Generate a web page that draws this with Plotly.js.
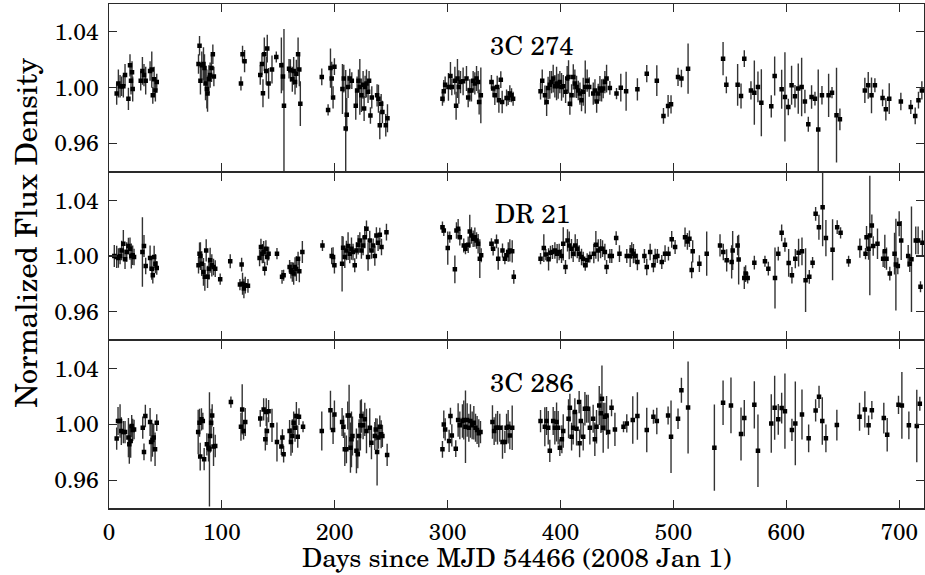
<!DOCTYPE html>
<html>
<head>
<meta charset="utf-8">
<script src="https://cdn.plot.ly/plotly-3.0.1.min.js"></script>
<style>
html,body{margin:0;padding:0;background:#fff;}
#chart{width:925px;height:575px;}
</style>
</head>
<body>
<div id="chart"></div>
<script>
// ---------- 3C 274 (top panel) ----------
var days274 = [6.8,8.3,9.8,11.2,12.7,14.2,17.2,18.6,19.5,20.4,21.0,28.1,29.6,31.0,32.5,36.4,37.9,38.8,40.0,41.1,42.3,
79.3,80.2,81.0,82.2,83.7,84.6,85.5,86.7,87.3,88.5,89.6,90.8,92.0,92.9,
116.9,118.3,120.1,
134.0,135.5,136.4,137.6,139.3,140.2,141.4,144.4,148.2,152.7,154.1,155.0,159.5,160.7,162.4,163.6,164.8,166.0,167.5,168.6,169.5,
188.5,194.1,196.2,197.3,198.5,199.7,206.8,208.0,209.7,210.6,211.8,213.3,215.1,218.6,219.8,221.0,222.2,223.6,225.1,226.0,226.9,228.1,229.5,230.4,231.6,232.8,237.5,238.7,239.9,241.1,242.2,245.2,246.7,
295.4,296.6,297.8,300.7,302.5,303.7,306.4,307.5,308.7,309.9,311.4,313.7,316.7,318.2,319.6,321.1,322.6,324.1,325.6,327.0,327.9,329.4,
338.8,340.3,341.8,343.9,345.4,347.1,348.3,352.2,353.6,355.1,356.6,358.0,
382.3,383.8,386.2,387.7,389.0,390.5,392.0,393.5,395.0,396.5,397.9,399.4,400.9,402.4,404.5,405.9,407.1,408.3,409.8,411.3,412.7,414.2,415.7,417.2,418.6,420.1,421.9,423.6,425.4,429.0,430.5,432.0,433.4,434.9,436.4,437.8,439.3,440.8,443.7,449.6,
453.4,458.1,468.1,476.4,485.3,491.2,495.3,497.9,504.1,507.1,513.0,
544.0,546.9,556.9,559.9,562.8,568.7,571.7,574.9,577.9,586.7,589.7,595.9,598.8,601.8,604.7,607.7,610.6,613.6,616.5,619.5,622.4,625.4,628.3,631.6,637.5,640.5,644.5,647.5,
669.6,672.6,675.5,678.5,685.3,688.2,691.2,701.5,710.3,714.2,717.1,720.1];
var flux274 = [0.9957,1.003,1.001,1.001,1.001,1.009,0.992,1.016,1.005,1.011,0.999,1.005,1.012,1.009,1.005,1.012,1.013,0.9945,1.006,0.998,1.004,
1.017,1.030,1.005,1.016,1.017,1.014,1.003,0.999,0.9957,1.006,1.009,1.014,1.024,1.008,
1.003,1.024,1.019,
1.009,1.017,0.996,1.024,1.012,1.028,1.003,1.013,1.022,1.016,1.008,0.987,1.0136,1.0124,1.006,1.012,1.004,1.010,1.024,1.013,0.9885,
1.0077,0.984,1.014,1.0065,0.993,1.015,0.999,1.0065,0.9706,0.9806,1.0005,1.0065,1.005,0.987,0.998,1.005,1.0005,0.9945,1.002,0.985,1.0005,1.003,0.997,1.005,0.980,0.993,0.9945,0.992,0.973,0.9885,0.9825,0.973,0.978,
0.992,0.9974,1.002,1.0005,1.0084,1.0005,1.005,0.987,1.0065,1.0005,1.004,1.0045,1.0065,0.993,0.998,0.998,1.005,1.003,1.0065,1.004,0.9897,0.9945,
1.004,0.9993,0.9945,1.0005,0.991,1.0057,0.9897,0.9926,0.9926,0.9957,0.9945,0.992,
0.9974,1.005,0.9945,0.9897,0.9998,1.002,1.004,1.0065,1.001,1.003,1.001,1.004,1.0005,1.001,0.997,1.0065,1.0077,0.9885,0.9945,1.0077,1.003,1.0005,0.998,0.9957,0.991,0.997,1.0005,1.005,1.0005,0.9957,0.998,0.990,0.9957,0.9993,0.998,0.9993,1.004,1.0065,0.9998,0.9957,
1.000,0.9974,0.9988,1.010,1.005,0.9797,0.9869,0.988,1.0077,1.0065,1.0136,
1.0208,1.002,1.002,0.994,1.0208,0.998,0.9964,1.0005,0.9892,0.9866,1.0084,0.9988,0.9933,0.9861,1.0017,0.9938,0.9993,1.0005,0.990,0.9737,0.9933,0.9921,0.970,0.9945,0.9945,0.9964,0.9802,0.9773,
0.998,1.0017,0.9945,1.0017,0.9926,0.9845,0.9921,0.990,0.9861,0.9797,0.991,0.998];
var err274 = [0.008,0.010,0.008,0.007,0.008,0.008,0.008,0.008,0.010,0.008,0.009,0.007,0.010,0.008,0.010,0.007,0.013,0.006,0.009,0.008,0.006,
0.007,0.007,0.010,0.010,0.012,0.010,0.012,0.014,0.013,0.010,0.009,0.010,0.007,0.007,
0.005,0.006,0.008,
0.007,0.008,0.010,0.012,0.010,0.010,0.011,0.010,0.004,0.020,0.010,0.055,0.007,0.008,0.009,0.010,0.009,0.010,0.012,0.012,0.016,
0.006,0.004,0.014,0.012,0.008,0.006,0.018,0.010,0.042,0.012,0.008,0.007,0.006,0.010,0.010,0.008,0.020,0.012,0.010,0.009,0.008,0.010,0.008,0.007,0.006,0.008,0.008,0.010,0.010,0.007,0.008,0.008,0.010,
0.005,0.008,0.006,0.010,0.010,0.006,0.010,0.010,0.014,0.012,0.008,0.010,0.009,0.007,0.008,0.008,0.007,0.008,0.009,0.008,0.009,0.020,
0.005,0.006,0.007,0.008,0.009,0.006,0.008,0.006,0.005,0.006,0.005,0.005,
0.006,0.008,0.007,0.010,0.008,0.010,0.008,0.010,0.008,0.012,0.009,0.008,0.010,0.008,0.008,0.009,0.012,0.008,0.008,0.009,0.010,0.008,0.007,0.008,0.008,0.010,0.019,0.008,0.007,0.008,0.008,0.008,0.007,0.009,0.008,0.007,0.008,0.010,0.005,0.004,
0.010,0.014,0.008,0.0062,0.011,0.0057,0.0078,0.0066,0.0065,0.0063,0.018,
0.012,0.006,0.015,0.009,0.006,0.0066,0.023,0.011,0.024,0.008,0.014,0.014,0.032,0.006,0.014,0.008,0.018,0.021,0.0084,0.0054,0.0084,0.005,0.043,0.0066,0.0155,0.004,0.034,0.0078,
0.009,0.0096,0.0128,0.005,0.006,0.008,0.011,0.0063,0.005,0.006,0.006,0.0066];

// ---------- DR 21 (middle panel) ----------
var daysDR21 = [4.7,6.8,8.3,9.8,11.2,12.7,14.2,15.7,17.2,18.6,19.8,21.0,22.2,29.6,31.0,32.5,36.4,37.9,38.8,40.0,41.1,42.3,
79.3,80.2,81.0,82.2,83.7,84.9,86.1,87.3,88.5,89.6,91.1,92.6,94.1,98.5,107.4,116.0,117.5,118.3,119.5,120.7,123.1,
133.4,134.6,135.8,137.0,137.9,139.0,140.2,141.4,148.8,153.3,154.7,160.0,161.2,162.4,163.6,164.8,166.0,167.5,168.6,171.3,
189.1,197.3,198.5,199.7,206.5,207.4,208.9,210.3,211.8,213.3,214.8,216.2,217.7,219.2,220.7,222.2,223.6,225.1,226.6,228.1,229.5,231.0,232.5,234.0,235.5,236.9,238.4,239.9,241.4,245.8,
295.4,296.6,300.1,301.9,306.4,307.8,309.3,310.8,314.3,315.8,318.2,319.6,321.1,322.6,324.1,325.6,327.0,328.5,329.7,
338.8,340.3,343.3,344.8,348.6,350.7,352.2,353.7,355.1,357.2,358.6,
382.3,385.2,387.0,389.4,391.1,392.9,395.0,397.0,398.8,400.9,402.4,404.4,406.2,407.7,409.7,411.2,413.0,414.8,416.5,418.6,420.1,421.9,423.6,426.0,429.5,431.3,433.4,435.5,437.2,439.3,440.8,443.7,445.4,449.3,452.2,
458.7,461.7,463.1,464.6,466.1,468.1,474.3,476.4,479.4,482.3,483.8,485.8,489.7,492.6,495.6,498.5,501.5,
510.3,512.4,514.2,516.2,517.1,523.0,529.5,541.3,544.2,547.2,551.6,552.5,556.9,557.8,562.8,564.0,565.8,571.7,581.1,584.1,590.0,592.9,595.9,598.8,602.1,605.0,608.0,610.9,613.9,617.1,620.4,623.3,626.0,628.9,632.2,635.1,641.0,645.1,648.1,655.2,
665.2,670.2,671.1,672.9,674.0,675.8,677.0,680.8,685.8,687.3,688.8,691.7,695.9,697.1,698.8,700.0,701.8,708.0,709.4,710.9,714.7,716.8,718.9,720.6];
var fluxDR21 = [1.000,0.9993,0.9986,1.000,1.004,1.0088,0.9976,1.0029,1.0072,1.0053,1.000,1.0005,0.9993,1.0029,1.0072,0.9928,0.9986,0.9909,0.9861,0.9993,0.9945,0.9914,
0.9933,1.0017,1.000,0.9945,0.9885,0.985,1.004,0.985,0.9909,0.9969,0.9933,0.9921,0.9909,0.9833,0.9962,0.9794,0.9938,0.980,0.9766,0.979,0.9785,
0.9986,1.0065,1.0017,1.0029,0.9909,1.0053,0.9993,1.0017,1.0017,0.985,0.9861,0.9921,0.9897,0.9885,0.9873,0.9921,0.9909,0.9981,0.989,1.0029,
1.0076,1.000,0.9993,0.9933,0.9945,1.006,0.9993,1.004,1.0072,1.0017,1.0053,1.0029,0.9933,1.004,1.0081,1.0112,1.004,1.0076,1.0136,1.0196,0.9993,1.0112,1.004,1.0076,1.000,1.0148,1.0096,1.0153,1.0065,1.0172,
1.0208,1.0184,1.0057,1.0136,0.9904,1.0184,1.0196,1.0136,1.0076,1.0053,1.0081,1.0177,1.0148,1.0124,1.0136,1.0112,1.0088,0.9981,1.0005,
1.0088,1.0053,1.0105,0.9981,1.004,0.9981,1.0005,1.0029,1.004,1.0034,0.985,
0.9981,1.0057,1.001,0.9976,1.0024,1.0029,1.004,1.0017,1.0029,1.000,1.0088,0.9921,1.0112,1.0076,1.0053,1.0017,1.0076,1.0053,1.0017,0.9993,0.9981,0.9933,0.9969,0.9993,1.0017,1.0081,1.004,1.0053,1.0053,1.0029,0.9921,1.000,1.000,1.0129,1.0017,
1.000,1.000,1.004,1.0017,1.000,0.9957,1.000,0.9921,1.0029,0.9933,0.9993,1.000,0.9957,1.0017,1.0017,1.012,1.0065,
1.0136,1.0105,1.0124,0.990,1.0034,0.9945,1.0017,1.0076,1.0029,0.9969,0.9957,1.004,1.0076,0.9974,0.9842,0.9873,0.9842,0.9952,0.9962,0.9909,0.9842,1.0017,1.0167,1.0081,0.995,0.9861,0.9981,1.0024,1.0034,0.9826,0.985,0.9952,1.0304,1.0208,1.0351,1.0129,1.0045,1.0208,1.0167,0.9962,
1.0057,1.0017,1.0136,1.0053,1.0148,1.022,1.0072,1.0088,0.9981,1.0034,0.9981,0.9873,1.0017,0.9938,0.9928,1.0232,1.0112,1.000,0.9945,0.9976,1.0112,1.0112,0.9778,1.0096];
var errDR21 = [0.008,0.008,0.007,0.006,0.007,0.010,0.007,0.007,0.006,0.008,0.009,0.007,0.006,0.025,0.008,0.006,0.009,0.008,0.006,0.008,0.007,0.005,
0.006,0.008,0.010,0.009,0.010,0.010,0.008,0.008,0.008,0.009,0.008,0.006,0.006,0.004,0.005,0.004,0.005,0.008,0.007,0.006,0.005,
0.006,0.006,0.007,0.008,0.005,0.006,0.006,0.005,0.004,0.005,0.004,0.005,0.006,0.007,0.008,0.007,0.009,0.005,0.008,0.008,
0.004,0.006,0.007,0.006,0.020,0.008,0.008,0.007,0.010,0.007,0.008,0.006,0.005,0.006,0.007,0.006,0.006,0.007,0.008,0.006,0.010,0.007,0.006,0.005,0.007,0.006,0.006,0.005,0.006,0.006,
0.004,0.004,0.012,0.004,0.010,0.006,0.007,0.006,0.005,0.004,0.006,0.012,0.006,0.006,0.007,0.006,0.007,0.014,0.005,
0.004,0.005,0.005,0.008,0.005,0.004,0.004,0.007,0.008,0.008,0.005,
0.004,0.010,0.004,0.008,0.005,0.005,0.006,0.007,0.006,0.005,0.012,0.005,0.008,0.010,0.007,0.006,0.008,0.007,0.006,0.006,0.005,0.004,0.005,0.004,0.007,0.010,0.008,0.007,0.006,0.006,0.005,0.005,0.005,0.005,0.006,
0.005,0.008,0.006,0.007,0.005,0.006,0.005,0.006,0.006,0.005,0.006,0.005,0.005,0.006,0.005,0.006,0.005,
0.007,0.006,0.006,0.006,0.008,0.006,0.016,0.008,0.006,0.008,0.012,0.014,0.007,0.018,0.008,0.006,0.004,0.005,0.004,0.005,0.022,0.005,0.006,0.005,0.010,0.006,0.007,0.010,0.010,0.023,0.005,0.004,0.005,0.009,0.028,0.013,0.022,0.005,0.004,0.004,
0.007,0.004,0.008,0.008,0.043,0.008,0.007,0.011,0.006,0.012,0.008,0.005,0.015,0.033,0.006,0.009,0.014,0.008,0.006,0.038,0.010,0.010,0.004,0.009];

// ---------- 3C 286 (bottom panel) ----------
var days286 = [6.8,8.0,9.8,10.9,12.7,14.2,17.2,18.0,19.2,20.1,21.0,22.2,29.9,31.0,32.2,36.4,37.3,38.5,39.6,40.8,42.3,
79.0,80.2,80.8,81.9,83.1,84.3,86.7,88.2,89.0,89.6,90.5,91.4,92.6,94.1,108.0,116.9,118.0,119.2,120.7,
134.0,137.0,138.5,139.3,139.9,141.4,144.4,148.8,152.7,153.6,154.7,160.0,161.2,162.4,163.6,164.8,166.0,167.2,168.3,171.9,
188.5,196.2,198.5,199.7,206.5,207.7,208.9,210.3,211.5,212.7,213.9,214.8,215.7,219.2,220.4,221.6,222.7,223.6,225.1,226.6,228.1,231.0,232.5,235.5,236.3,237.5,238.7,239.9,241.1,242.2,246.4,
295.4,296.6,297.8,301.3,302.5,303.7,307.2,309.3,310.8,313.1,314.3,315.8,317.3,318.8,320.2,321.7,323.2,324.7,326.1,327.6,329.1,
339.7,341.2,342.7,344.2,346.2,348.6,350.7,352.2,353.6,355.1,357.2,
382.3,386.1,387.6,389.1,390.5,393.5,395.0,396.5,397.9,399.4,401.2,402.4,407.1,408.3,409.8,411.2,412.7,414.2,416.5,416.9,418.0,420.1,421.6,423.0,424.5,426.0,428.9,430.4,431.9,434.3,435.8,436.7,437.8,439.3,440.8,442.2,445.2,448.2,
455.8,458.7,464.0,468.1,476.4,482.3,485.3,495.3,497.9,504.1,507.1,513.0,
536.3,544.0,551.0,559.9,562.8,571.7,574.9,586.7,589.7,592.9,595.9,598.8,605.0,608.0,613.9,619.8,626.0,629.0,631.9,635.1,644.8,
664.9,669.6,672.9,675.8,686.4,689.4,699.4,702.4,708.6,715.6,718.3];
var flux286 = [0.9898,1.0024,1.0024,0.9952,0.9945,0.9945,0.9905,0.9857,0.9881,0.9988,0.996,0.9964,0.9976,0.9802,1.006,1.0017,0.9874,0.9888,0.9905,0.9821,1.0012,
0.9945,1.0012,0.9769,1.0036,1.0024,0.975,0.9857,0.9833,0.9821,0.9917,1.0012,1.0064,0.9841,0.9845,1.016,0.9983,1.0107,0.9952,1.0017,
1.0043,1.0107,0.9893,1.0088,0.9952,1.0095,0.9993,0.9874,0.9841,0.9905,0.9786,0.9952,0.9874,0.9917,1.0012,0.9976,1.006,0.9912,1.0055,0.9983,
0.9952,1.0102,0.996,1.0071,1.0017,0.9983,0.9821,0.9821,1.0064,1.0064,0.9833,0.9893,0.9917,0.981,0.9786,0.9917,0.9993,1.006,0.9993,1.0036,0.9952,0.9976,0.9869,0.9917,0.9964,0.9802,0.9905,0.9983,0.9929,0.9917,0.9781,
0.9821,1.000,0.9964,0.9881,1.006,0.9921,0.9826,1.0031,0.9993,1.0024,1.0031,0.9983,1.0031,0.9976,1.0024,0.9993,1.0012,0.9976,0.996,0.9936,0.9945,
1.0017,0.9952,0.9976,0.9976,0.9976,0.9874,0.9874,0.9976,0.9983,0.9921,0.9976,
1.0024,0.9983,1.0024,0.9976,0.981,1.0024,0.9976,1.0017,0.9976,0.9833,0.9893,0.9952,1.004,1.0119,0.9912,0.9976,1.0088,0.9969,1.016,0.9864,1.0024,0.9912,1.0112,1.0112,1.0112,0.9976,1.004,0.9893,0.9983,1.0136,1.0079,1.0183,0.9976,1.0055,1.0064,0.9945,1.0119,0.9964,
0.9983,1.0007,1.0031,1.006,0.996,1.0055,1.0024,1.0064,0.9912,1.004,1.0245,1.0121,
0.9833,1.0155,1.0136,0.9931,1.0045,1.014,0.981,1.0007,1.0119,1.0036,1.0117,1.0095,0.996,1.0007,1.0071,0.990,1.010,1.0198,1.0024,0.990,0.9995,
1.0055,1.0107,0.9993,1.0102,1.0045,0.9926,1.014,1.0136,0.9993,0.9988,1.0148];
var err286 = [0.008,0.010,0.012,0.010,0.008,0.008,0.014,0.014,0.012,0.008,0.008,0.007,0.008,0.006,0.008,0.010,0.014,0.012,0.010,0.012,0.006,
0.016,0.010,0.010,0.008,0.006,0.008,0.008,0.010,0.041,0.012,0.010,0.008,0.014,0.008,0.004,0.010,0.018,0.006,0.010,
0.006,0.008,0.008,0.010,0.010,0.008,0.012,0.014,0.006,0.006,0.006,0.008,0.010,0.012,0.008,0.010,0.010,0.008,0.006,0.004,
0.014,0.014,0.010,0.010,0.010,0.008,0.012,0.010,0.010,0.022,0.018,0.020,0.014,0.016,0.010,0.012,0.018,0.012,0.010,0.012,0.016,0.014,0.012,0.010,0.008,0.024,0.008,0.008,0.010,0.008,0.008,
0.006,0.010,0.008,0.008,0.006,0.008,0.006,0.012,0.010,0.012,0.014,0.026,0.012,0.010,0.012,0.010,0.012,0.010,0.010,0.010,0.008,
0.012,0.010,0.010,0.012,0.010,0.012,0.008,0.010,0.012,0.010,0.016,
0.008,0.014,0.010,0.012,0.008,0.010,0.012,0.014,0.012,0.006,0.010,0.012,0.014,0.010,0.010,0.012,0.010,0.012,0.008,0.010,0.012,0.010,0.012,0.010,0.010,0.012,0.010,0.012,0.012,0.014,0.014,0.024,0.018,0.010,0.014,0.012,0.006,0.012,
0.004,0.0065,0.017,0.017,0.016,0.005,0.0095,0.0065,0.026,0.0074,0.009,0.033,
0.031,0.016,0.020,0.019,0.013,0.017,0.026,0.021,0.023,0.011,0.011,0.027,0.008,0.030,0.018,0.010,0.008,0.008,0.017,0.010,0.011,
0.010,0.013,0.007,0.0065,0.011,0.012,0.0065,0.024,0.010,0.026,0.005];

var sourceNames = ['3C 274', 'DR 21', '3C 286'];
var yTickVals = [0.96, 1.00, 1.04];
var yTickText = ['0.96', '1.00', '1.04'];
var xTitle = 'Days since MJD 54466 (2008 Jan 1)';
var yTitle = 'Normalized Flux Density';

var FONT = "'TeX Gyre Schola', 'C059', 'Century Schoolbook L', 'DejaVu Serif', serif";
var LINE = '#2a2a2a';

function mkTrace(x, y, e, xa, ya) {
  return {
    type: 'scatter', mode: 'markers', x: x, y: y, xaxis: xa, yaxis: ya,
    marker: {symbol: 'square', size: 4.5, color: '#000'},
    error_y: {type: 'data', array: e, visible: true, color: '#333', thickness: 1.4, width: 0},
    showlegend: false, hoverinfo: 'x+y'
  };
}

var data = [
  mkTrace(days286, flux286, err286, 'x', 'y'),
  mkTrace(daysDR21, fluxDR21, errDR21, 'x2', 'y2'),
  mkTrace(days274, flux274, err274, 'x3', 'y3')
];

function xAx(anchor, showLabels) {
  return {
    anchor: anchor, range: [0, 722], tick0: 0, dtick: 100,
    showline: true, linecolor: LINE, linewidth: 1.5, mirror: 'allticks',
    ticks: 'inside', ticklen: 8, tickwidth: 1.2, tickcolor: LINE,
    showgrid: false, zeroline: false, showticklabels: showLabels,
    tickfont: {family: FONT, size: 22.5, color: '#000'}, ticklabelstandoff: 3
  };
}
function yAx(anchor, domain) {
  return {
    anchor: anchor, domain: domain, range: [0.94, 1.06],
    tickmode: 'array', tickvals: yTickVals, ticktext: yTickText,
    showline: true, linecolor: LINE, linewidth: 1.5, mirror: 'allticks',
    ticks: 'inside', ticklen: 8, tickwidth: 1.2, tickcolor: LINE,
    showgrid: false, zeroline: false,
    tickfont: {family: FONT, size: 23, color: '#000'}, ticklabelstandoff: 4
  };
}

var H = 504, g = 0.75 / H;

var layout = {
  width: 925, height: 575,
  margin: {l: 109, r: 1, t: 4, b: 67},
  paper_bgcolor: '#fff', plot_bgcolor: '#fff',
  font: {family: FONT, color: '#000'},
  xaxis: xAx('y', true),
  xaxis2: xAx('y2', false),
  xaxis3: xAx('y3', false),
  yaxis: yAx('x', [0, 1/3 - g]),
  yaxis2: yAx('x2', [1/3 + g, 2/3 - g]),
  yaxis3: yAx('x3', [2/3 + g, 1]),
  annotations: [
    {xref: 'x3', yref: 'y3', x: 375, y: 1.031, text: sourceNames[0], showarrow: false, font: {family: FONT, size: 26, color: '#000'}},
    {xref: 'x2', yref: 'y2', x: 375, y: 1.031, text: sourceNames[1], showarrow: false, font: {family: FONT, size: 26, color: '#000'}},
    {xref: 'x', yref: 'y', x: 375, y: 1.031, text: sourceNames[2], showarrow: false, font: {family: FONT, size: 26, color: '#000'}},
    {xref: 'paper', yref: 'paper', x: 0.5, y: -0.0972, xanchor: 'center', yanchor: 'middle', borderpad: 0,
     text: xTitle, showarrow: false, font: {family: FONT, size: 26, color: '#000'}},
    {xref: 'paper', yref: 'paper', x: -0.131, y: 0.547, text: yTitle, textangle: -90, showarrow: false, borderpad: 0,
     font: {family: FONT, size: 30, color: '#000'}}
  ]
};

Plotly.newPlot('chart', data, layout, {staticPlot: true, displayModeBar: false});
</script>
</body>
</html>
